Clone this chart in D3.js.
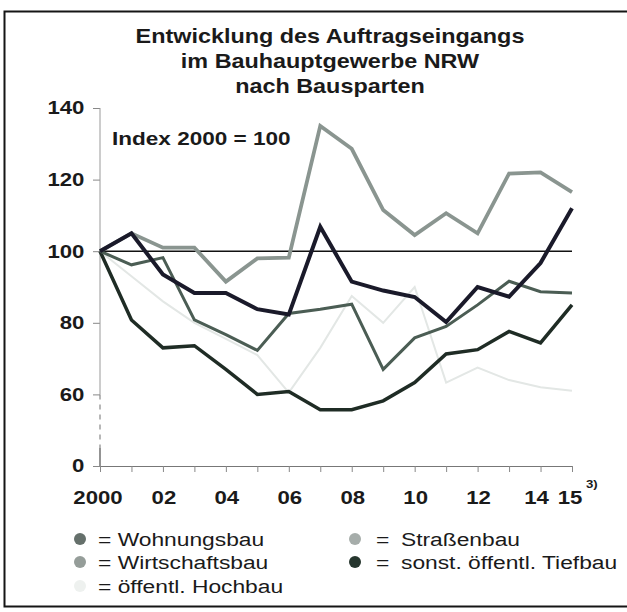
<!DOCTYPE html>
<html>
<head>
<meta charset="utf-8">
<script src="https://cdn.jsdelivr.net/npm/d3@7"></script>
<style>
  body { margin: 0; background: #fff; }
  text { font-family: "Liberation Sans", Arial, sans-serif; fill: #1a1a1a; }
</style>
</head>
<body>
<div id="chart"></div>
<script>
// Jahre und Indexwerte (2000 = 100)
const years = d3.range(2000, 2016);
const strassenbau = [100, 105, 101, 101, 91.5, 98, 98.2, 135, 128.6, 111.5, 104.5, 110.6, 105, 121.7, 122, 116.5];
const wirtschaftsbau = [100, 105, 93.5, 88.3, 88.3, 83.8, 82.3, 106.8, 91.5, 89, 87.2, 80.2, 90, 87.3, 96.7, 112];
const tiefbau = [100, 96.2, 98.2, 80.8, 76.7, 72.3, 82.6, 83.8, 85.2, 67, 75.8, 79, 85, 91.6, 88.7, 88.3];
const wohnungsbau = [100, 80.8, 73, 73.6, 67, 60, 60.8, 55.7, 55.7, 58.2, 63.3, 71.3, 72.5, 77.6, 74.4, 85];
const hochbau = [100, 93, 86, 80, 75.5, 71, 60.5, 73, 87.5, 80, 90, 63.3, 67.5, 64, 62, 61];

const yTicks = [40, 60, 80, 100, 120, 140];
const yTickLabels = ["0", "60", "80", "100", "120", "140"];
const xTickYears = [2000, 2002, 2004, 2006, 2008, 2010, 2012, 2014, 2015];
const xTickLabels = ["2000", "02", "04", "06", "08", "10", "12", "14", "15"];

const titleLines = ["Entwicklung des Auftragseingangs", "im Bauhauptgewerbe NRW", "nach Bausparten"];

// Reihenfolge der Linien (unten zuerst gezeichnet)
const series = [
    { name: "öffentl. Hochbau", values: hochbau, color: "#e3e7e5", width: 2 },
    { name: "Straßenbau", values: strassenbau, color: "#8a9590", width: 3.8 },
    { name: "Wohnungsbau", values: wohnungsbau, color: "#1f2c25", width: 3.5 },
    { name: "sonst. öffentl. Tiefbau", values: tiefbau, color: "#4b5d54", width: 3 },
    { name: "Wirtschaftsbau", values: wirtschaftsbau, color: "#1a1a2a", width: 4 }
];

const legendNames = ["Wohnungsbau", "Wirtschaftsbau", "öffentl. Hochbau", "Straßenbau", "sonst. öffentl. Tiefbau"];
const legendDots = ["#65706b", "#959d99", "#eef1ef", "#a6adaa", "#26362e"];

const W = 627, H = 612;
const SX = 1.2; // Scan ist horizontal gestreckt

let svg = d3.select("#chart").append("svg")
    .attr("width", W)
    .attr("height", H);

// Rahmen
svg.append("rect")
    .attr("x", 4.5).attr("y", 11.5)
    .attr("width", 640).attr("height", 595)
    .attr("fill", "#fff")
    .attr("stroke", "#151515")
    .attr("stroke-width", 2);

function label(x, y, str, size, weight, anchor) {
    return svg.append("text")
        .attr("transform", `translate(${x},${y}) scale(${SX},1)`)
        .attr("text-anchor", anchor || "start")
        .style("font-size", size + "px")
        .style("font-weight", weight || "normal")
        .text(str);
}

// Titel
titleLines.forEach((t, i) => label(330, 43 + i * 25, t, 19.5, "bold", "middle"));

let x = d3.scaleLinear().domain([2000, 2015]).range([100, 572]);
let y = d3.scaleLinear().domain([40, 140]).range([466, 108]);

// Y-Achse mit Bruch unter 60
let yAxis = svg.append("g")
    .attr("transform", "translate(100,0)")
    .call(d3.axisLeft(y).tickValues(yTicks).tickSize(7).tickFormat((d, i) => yTickLabels[i]));
yAxis.select(".domain").remove();
yAxis.selectAll("line").attr("stroke", "#888");
yAxis.selectAll("text")
    .attr("x", -13)
    .attr("transform", `scale(${SX},1)`)
    .style("font-size", "18.5px")
    .style("font-weight", "bold")
    .attr("fill", "#1a1a1a");

svg.append("line").attr("x1", 100).attr("x2", 100)
    .attr("y1", y(140)).attr("y2", y(60))
    .attr("stroke", "#999").attr("stroke-width", 1);
svg.append("line").attr("x1", 100).attr("x2", 100)
    .attr("y1", y(60)).attr("y2", y(45))
    .attr("stroke", "#888").attr("stroke-width", 1.2)
    .attr("stroke-dasharray", "5,5");
svg.append("line").attr("x1", 100).attr("x2", 100)
    .attr("y1", y(45)).attr("y2", y(40))
    .attr("stroke", "#666").attr("stroke-width", 1.4);

// X-Achse
let xAxis = svg.append("g")
    .attr("transform", `translate(0,${y(40)})`)
    .call(d3.axisBottom(x).tickValues(years).tickSize(6).tickSizeOuter(0).tickFormat(""));
xAxis.select(".domain").attr("stroke", "#777").attr("stroke-width", 1.2);
xAxis.selectAll("line").attr("stroke", "#888");

const xLabelShift = { 2000: -2, 2014: -4, 2015: -2 };
xTickYears.forEach((yr, i) => {
    let dx = xLabelShift[yr] !== undefined ? xLabelShift[yr] : 1;
    label(x(yr) + dx, 504, xTickLabels[i], 18.5, "bold", "middle");
});
label(586, 488, "3)", 11, "bold", "start");

// Linie bei 100
svg.append("line")
    .attr("x1", x(2000)).attr("x2", x(2015))
    .attr("y1", y(100)).attr("y2", y(100))
    .attr("stroke", "#111").attr("stroke-width", 1.5);

// Linien
let line = d3.line()
    .x((d, i) => x(years[i]))
    .y(d => y(d));

svg.selectAll(".serie")
    .data(series)
    .enter()
    .append("path")
    .attr("class", "serie")
    .attr("d", d => line(d.values))
    .attr("fill", "none")
    .attr("stroke", d => d.color)
    .attr("stroke-width", d => d.width)
    .attr("stroke-linejoin", "miter");

label(112, 145, "Index 2000 = 100", 18.8, "bold");

// Legende
const legendPos = [[80, 539], [80, 562], [80, 586], [355, 539], [355, 562]];
legendNames.forEach((n, i) => {
    let [lx, ly] = legendPos[i];
    svg.append("circle")
        .attr("cx", lx).attr("cy", ly)
        .attr("r", 6)
        .attr("fill", legendDots[i]);
    if (i < 3) {
        label(lx + 18, ly + 7, "= " + n, 19);
    } else {
        label(lx + 21, ly + 7, "=", 19);
        label(lx + 46, ly + 7, n, 19);
    }
});
</script>
</body>
</html>
